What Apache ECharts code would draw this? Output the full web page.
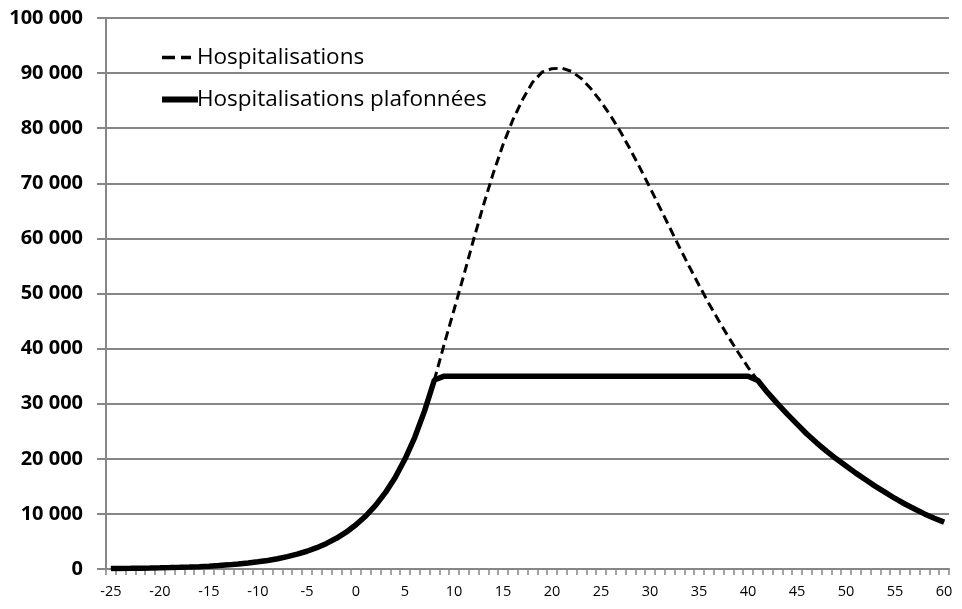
<!DOCTYPE html>
<html>
<head>
<meta charset="utf-8">
<script src="https://cdn.jsdelivr.net/npm/echarts@6/dist/echarts.min.js"></script>
<style>
html,body{margin:0;padding:0;background:#fff;}
#chart{width:962px;height:609px;}
</style>
</head>
<body>
<div id="chart"></div>
<script>
var days = [];
for (var d = -25; d <= 60; d++) days.push(String(d));

var hospitalisations = [
  80, 100, 120, 145, 175, 210, 250, 300, 360, 430,
  520, 620, 750, 900, 1080, 1300, 1550, 1860, 2240, 2690,
  3220, 3870, 4640, 5570, 6680, 8020, 9620, 11550, 13850, 16600,
  19950, 23900, 28700, 34300, 40800, 47000, 53300, 59800, 66000, 71800,
  77000, 81500, 85200, 88300, 90200, 90800, 90900, 90300, 89000, 87100,
  84800, 82200, 79300, 76100, 72700, 69200, 65600, 62000, 58400, 54900,
  51500, 48200, 45100, 42100, 39300, 36600, 34200, 32000, 30000, 28100,
  26300, 24500, 22900, 21400, 20000, 18700, 17400, 16200, 15000, 13900,
  12800, 11800, 10900, 10000, 9200, 8500
];

var plafonnees = [
  80, 100, 120, 145, 175, 210, 250, 300, 360, 430,
  520, 620, 750, 900, 1080, 1300, 1550, 1860, 2240, 2690,
  3220, 3870, 4640, 5570, 6680, 8020, 9620, 11550, 13850, 16600,
  19950, 23900, 28700, 34300, 35000, 35000, 35000, 35000, 35000, 35000,
  35000, 35000, 35000, 35000, 35000, 35000, 35000, 35000, 35000, 35000,
  35000, 35000, 35000, 35000, 35000, 35000, 35000, 35000, 35000, 35000,
  35000, 35000, 35000, 35000, 35000, 35000, 34200, 32000, 30000, 28100,
  26300, 24500, 22900, 21400, 20000, 18700, 17400, 16200, 15000, 13900,
  12800, 11800, 10900, 10000, 9200, 8500
];

var seriesNames = ['Hospitalisations', 'Hospitalisations plafonnées'];

function fmt(v) {
  var s = String(Math.round(v));
  return s.replace(/\B(?=(\d{3})+(?!\d))/g, ' ');
}

var FONT = '"Open Sans", "Liberation Sans", sans-serif';

var chart = echarts.init(document.getElementById('chart'), null, {renderer: 'canvas'});
chart.setOption({
  animation: false,
  backgroundColor: '#ffffff',
  grid: {left: 106, right: 13, top: 18, bottom: 40, containLabel: false},
  legend: {
    orient: 'vertical',
    left: 157,
    top: 40,
    itemGap: 17,
    itemWidth: 36,
    itemHeight: 6,
    symbolKeepAspect: false,
    itemStyle: {color: '#000', borderWidth: 0},
    data: [
      {name: seriesNames[0], icon: 'path://M0,1.2H13V4.8H0Z M19,1.2H29V4.8H19Z M36,0 M0,6'},
      {name: seriesNames[1], icon: 'path://M0,0H38V6H0Z'}
    ],
    textStyle: {fontFamily: FONT, fontSize: 22.5, lineHeight: 25, color: '#000', padding: [0, 0, 0, -6]}
  },
  xAxis: {
    type: 'category',
    data: days,
    boundaryGap: true,
    axisLine: {lineStyle: {color: '#868686', width: 2}},
    axisTick: {show: true, interval: 0, length: 6, lineStyle: {color: '#868686', width: 1.5}},
    axisLabel: {interval: 4, fontFamily: FONT, fontSize: 14.5, color: '#000', margin: 15}
  },
  yAxis: {
    type: 'value',
    min: 0,
    max: 100000,
    interval: 10000,
    axisLine: {show: true, lineStyle: {color: '#868686', width: 2}},
    axisTick: {show: true, length: 9, lineStyle: {color: '#868686', width: 2}},
    splitLine: {show: true, lineStyle: {color: '#868686', width: 2}},
    axisLabel: {formatter: fmt, fontFamily: FONT, fontWeight: 'bold', fontSize: 20, color: '#000', margin: 23}
  },
  series: [
    {
      name: seriesNames[0],
      type: 'line',
      data: hospitalisations,
      symbol: 'none',
      smooth: false,
      color: '#000',
      lineStyle: {color: '#000', width: 3, type: [9, 5]},
      z: 2
    },
    {
      name: seriesNames[1],
      type: 'line',
      data: plafonnees,
      symbol: 'none',
      smooth: false,
      color: '#000',
      lineStyle: {color: '#000', width: 5.5},
      z: 3
    }
  ]
});
</script>
</body>
</html>
